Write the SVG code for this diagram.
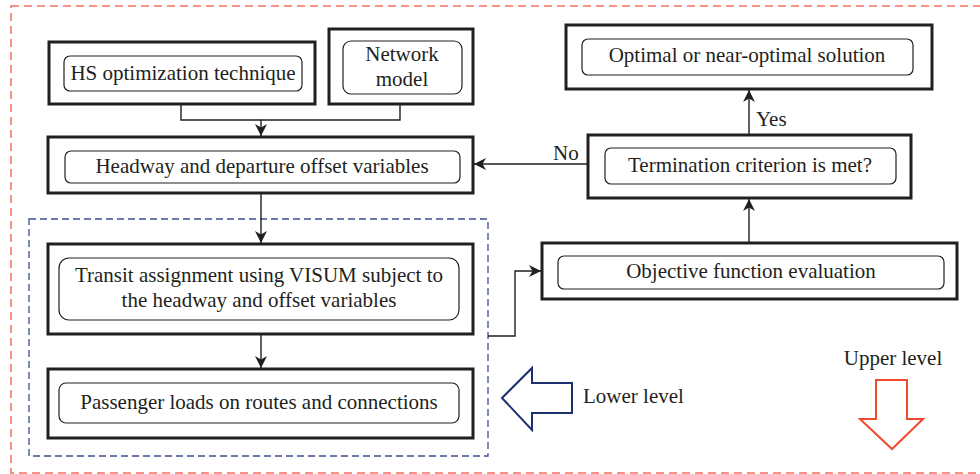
<svg xmlns="http://www.w3.org/2000/svg" width="980" height="474" viewBox="0 0 980 474">
<defs>
<style>
.outer{fill:#fff;stroke:#231f20;stroke-width:3}
.inner{fill:none;stroke:#231f20;stroke-width:1.2}
.t{font-family:"Liberation Serif","Times New Roman",serif;font-size:21px;fill:#231f20;text-anchor:middle}
.ts{font-family:"Liberation Serif","Times New Roman",serif;font-size:21px;fill:#231f20}
.conn{fill:none;stroke:#231f20;stroke-width:1.4}
</style>
<marker id="ah" markerUnits="userSpaceOnUse" markerWidth="14" markerHeight="14" refX="12" refY="6" orient="auto">
<path d="M0,0 L12,6 L0,12 L3.5,6 Z" fill="#231f20"/>
</marker>
</defs>
<rect width="980" height="474" fill="#fff"/>
<rect id="upper-frame" x="11" y="6" width="990" height="467" fill="none" stroke="#f4705f" stroke-width="1.5" stroke-dasharray="8 5"/>
<rect id="lower-frame" x="29" y="219" width="459" height="237" fill="none" stroke="#3b4f8f" stroke-width="1.3" stroke-dasharray="7 4"/>

<g id="connectors">
<path class="conn" d="M181,104 V120 H261 V136" marker-end="url(#ah)"/>
<path class="conn" d="M400,104 V120 H261"/>
<path class="conn" d="M261,193 V243" marker-end="url(#ah)"/>
<path class="conn" d="M261,334 V368" marker-end="url(#ah)"/>
<path class="conn" d="M488,336 H515 V271 H541" marker-end="url(#ah)"/>
<path class="conn" d="M749,243 V199" marker-end="url(#ah)"/>
<path class="conn" d="M749,135 V90" marker-end="url(#ah)"/>
<path class="conn" d="M588,164 H474" marker-end="url(#ah)"/>
<text class="ts" x="756" y="126">Yes</text>
<text class="ts" x="553" y="160">No</text>
</g>

<g id="hs">
<rect class="outer" x="49" y="42" width="266" height="62"/>
<rect class="inner" x="64" y="56" width="238" height="35" rx="6"/>
<text class="t" x="183" y="80">HS optimization technique</text>
</g>
<g id="network">
<rect class="outer" x="329" y="29" width="144" height="75"/>
<rect class="inner" x="343" y="41" width="119" height="53" rx="8"/>
<text class="t" x="402" y="61">Network</text>
<text class="t" x="402" y="86">model</text>
</g>
<g id="headway">
<rect class="outer" x="48" y="137" width="425" height="56"/>
<rect class="inner" x="65" y="151" width="395" height="32" rx="6"/>
<text class="t" x="262" y="173">Headway and departure offset variables</text>
</g>
<g id="transit">
<rect class="outer" x="48" y="244" width="425" height="90"/>
<rect class="inner" x="59" y="258" width="400" height="62" rx="10"/>
<text class="t" x="259" y="282">Transit assignment using VISUM subject to</text>
<text class="t" x="259" y="307">the headway and offset variables</text>
</g>
<g id="passenger">
<rect class="outer" x="48" y="369" width="425" height="69"/>
<rect class="inner" x="59" y="383" width="400" height="40" rx="7"/>
<text class="t" x="259" y="409">Passenger loads on routes and connections</text>
</g>
<g id="objective">
<rect class="outer" x="542" y="243" width="415" height="56"/>
<rect class="inner" x="558" y="256" width="386" height="33" rx="6"/>
<text class="t" x="751" y="278">Objective function evaluation</text>
</g>
<g id="termination">
<rect class="outer" x="588" y="135" width="323" height="63"/>
<rect class="inner" x="605" y="148" width="291" height="36" rx="6"/>
<text class="t" x="750" y="172">Termination criterion is met?</text>
</g>
<g id="optimal">
<rect class="outer" x="566" y="25" width="366" height="64"/>
<rect class="inner" x="582" y="39" width="331" height="36" rx="6"/>
<text class="t" x="747" y="62">Optimal or near-optimal solution</text>
</g>
<g id="lower-level">
<polygon points="502,398 532,368 532,383 572,383 572,413 532,413 532,430" fill="#fff" stroke="#1c2f6e" stroke-width="2"/>
<text class="ts" x="583" y="403">Lower level</text>
</g>
<g id="upper-level">
<polygon points="876,380 907,380 907,419 923,419 892,449 860,419 876,419" fill="#fff" stroke="#f04a2e" stroke-width="2"/>
<text class="t" x="893" y="365">Upper level</text>
</g>
</svg>
